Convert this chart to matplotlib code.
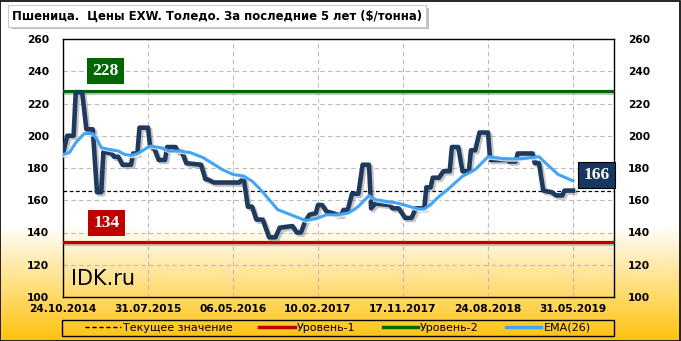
import numpy as np
import matplotlib
matplotlib.use("Agg")
import matplotlib.pyplot as plt
import matplotlib.patheffects as pe
from matplotlib.patches import Rectangle

# weekly data, x = weeks since 24.10.2014
tick_weeks = [0, 40, 80, 120, 160, 200, 240]
tick_labels = ["24.10.2014", "31.07.2015", "06.05.2016", "10.02.2017",
               "17.11.2017", "24.08.2018", "31.05.2019"]

price_week = [0, 2, 5, 6, 9, 11, 14, 16, 18, 19, 23, 24, 26, 28, 32, 33, 35, 36, 40, 41,
              43, 45, 48, 49, 53, 54, 56, 58, 65, 67, 68, 71, 83, 85, 87, 89, 91, 94, 97, 100,
              102, 108, 110, 112, 114, 116, 119, 120, 122, 124, 127, 129, 131, 132, 134, 136,
              139, 141, 144, 145, 147, 154, 155, 158, 161, 164, 166, 170, 171, 173, 174, 177,
              179, 182, 183, 186, 188, 191, 192, 194, 196, 200, 201, 209, 210, 213, 214, 221,
              222, 224, 226, 230, 232, 235, 236, 240]
price_val = [189, 200, 200, 227, 227, 204, 204, 165, 165, 190, 189, 187, 187, 182, 182, 189,
             189, 205, 205, 193, 192, 185, 185, 193, 193, 190, 190, 183, 182, 173, 173, 171,
             171, 174, 156, 156, 148, 148, 137, 137, 143, 144, 140, 140, 147, 151, 152, 157,
             157, 153, 152, 151, 151, 154, 154, 164, 164, 182, 182, 155, 158, 157, 155, 155,
             149, 149, 155, 155, 168, 168, 174, 174, 178, 178, 193, 193, 178, 178, 191, 191,
             202, 202, 185, 185, 184, 184, 189, 189, 183, 183, 166, 165, 163, 163, 166, 166]

ema_week = [0, 3, 6, 10, 14, 16, 18, 22, 26, 29, 32, 35, 41, 46, 50, 55, 60, 66, 75, 80, 85,
            89, 93, 101, 114, 119, 124, 129, 134, 137, 139, 144, 147, 157, 160, 167, 170, 173,
            177, 181, 188, 194, 200, 208, 216, 224, 227, 233, 240]
ema_val = [188.4, 189.5, 195.7, 201.3, 201.3, 197.8, 192.6, 191.5, 190.5, 188.4, 187.8, 188.9,
           193.6, 192.6, 190.5, 190.5, 189.5, 186.4, 179, 176, 175, 171.8, 166.6, 154.2, 147.5,
           148.5, 151, 151, 152, 154.2, 156.2, 162.9, 160.4, 158.3, 157.3, 154.6, 154.6, 157.3,
           162.4, 166.6, 174.9, 179, 187, 185.7, 185.7, 187, 183.2, 176, 172]

current = 166
level1 = 134
level2 = 228

W, H = 681, 341
fig = plt.figure(figsize=(W / 100, H / 100), dpi=100)

# background gradient white -> orange-yellow
bg = fig.add_axes([0, 0, 1, 1], zorder=-10)
t = np.linspace(0, 1, 200)
t = np.clip((0.34 - t) / 0.34, 0, 1)[:, None]
top = np.array([1.0, 1.0, 1.0])
bot = np.array([1.0, 0.76, 0.05])
img = top + (bot - top) * t[..., None]
bg.imshow(img, aspect="auto", origin="lower", extent=[0, 1, 0, 1])
bg.set_axis_off()
bg.add_patch(Rectangle((0.0005, 0.001), 0.998, 0.997, transform=bg.transAxes,
                       fill=False, edgecolor="black", linewidth=1.2))

ax = fig.add_axes([63 / W, 1 - 297 / H, (614 - 63) / W, (297 - 39) / H])
ax.patch.set_alpha(0)

shadow = [pe.SimpleLineShadow(offset=(1.5, -1.5), shadow_color="gray", alpha=0.45), pe.Normal()]

ax.axhline(level2, color="#006600", linewidth=2.3, path_effects=shadow, zorder=3)
ax.axhline(level1, color="#C00000", linewidth=2.3, path_effects=shadow, zorder=3)
ax.axhline(current, color="black", linewidth=0.9, linestyle=(0, (3, 2)), zorder=3)

ax.plot(price_week, price_val, color="#1F3A5F", linewidth=3.3, solid_joinstyle="round",
        path_effects=shadow, zorder=4)
ax.plot(ema_week, ema_val, color="#42A5F5", linewidth=2.2,
        path_effects=[pe.SimpleLineShadow(offset=(1, -1), shadow_color="white", alpha=0.8),
                      pe.Normal()], zorder=5)

ax.set_xlim(0, 259.3)
ax.set_ylim(100, 260)
ax.set_yticks(range(100, 261, 20))
ax.set_xticks(tick_weeks)
ax.set_xticklabels(tick_labels)
ax.grid(True, color="#BBBBBB", linestyle=(0, (4, 3)), linewidth=0.8)
ax.tick_params(length=0, labelsize=7.7, labelright=True, pad=5)
ax.tick_params(axis="y", pad=10)
for lab in ax.get_xticklabels() + ax.get_yticklabels():
    lab.set_fontweight("bold")
for lab in ax.yaxis.get_ticklabels(which="both"):
    lab.set_fontweight("bold")
for s in ax.spines.values():
    s.set_color("black")
    s.set_linewidth(1)

box_font = dict(family="Liberation Serif", fontsize=12.5, fontweight="bold", color="white",
                ha="center", va="center", zorder=6)
ax.text(20, 240, str(level2), bbox=dict(boxstyle="square,pad=0.3", facecolor="#006600",
        edgecolor="none"), **box_font)
ax.text(20.5, 146, str(level1), bbox=dict(boxstyle="square,pad=0.3", facecolor="#C00000",
        edgecolor="none"), **box_font)
ax.text(251, 175.7, str(current), bbox=dict(boxstyle="square,pad=0.3", facecolor="#17375E",
        edgecolor="black", linewidth=0.8), clip_on=False, **box_font)

ax.text(4, 111, "IDK.ru", fontsize=15, color="black", va="center", ha="left", zorder=6)

fig.text(12 / W, 1 - 16 / H, "Пшеница.  Цены EXW. Толедо. За последние 5 лет ($/тонна)",
         fontsize=8.4, fontweight="bold", va="center", ha="left",
         bbox=dict(boxstyle="square,pad=0.35", facecolor="white", edgecolor="#CCCCCC",
                   linewidth=0.8,
                   path_effects=[pe.SimplePatchShadow(offset=(2, -2), alpha=0.35), pe.Normal()]))

handles = [
    plt.Line2D([], [], color="black", linewidth=1, linestyle=(0, (3, 2))),
    plt.Line2D([], [], color="#C00000", linewidth=2.5),
    plt.Line2D([], [], color="#006600", linewidth=2.5),
    plt.Line2D([], [], color="#42A5F5", linewidth=2.5),
]
names = ["Текущее значение", "Уровень-1", "Уровень-2", "EMA(26)"]
# outer frame spans the plot width, entries centred inside
fig.patches.append(Rectangle((62 / W, 1 - 336 / H), (614 - 62) / W, 16 / H,
                             transform=fig.transFigure, fill=False, edgecolor="black",
                             linewidth=1))
leg = fig.legend(handles, names, ncol=4, loc="center",
                 bbox_to_anchor=(338 / W, 1 - 328 / H),
                 fontsize=8, frameon=False, borderpad=0.1,
                 handlelength=3.2, handletextpad=0.2, columnspacing=2.4, borderaxespad=0)

fig.savefig("out.png", dpi=100)
